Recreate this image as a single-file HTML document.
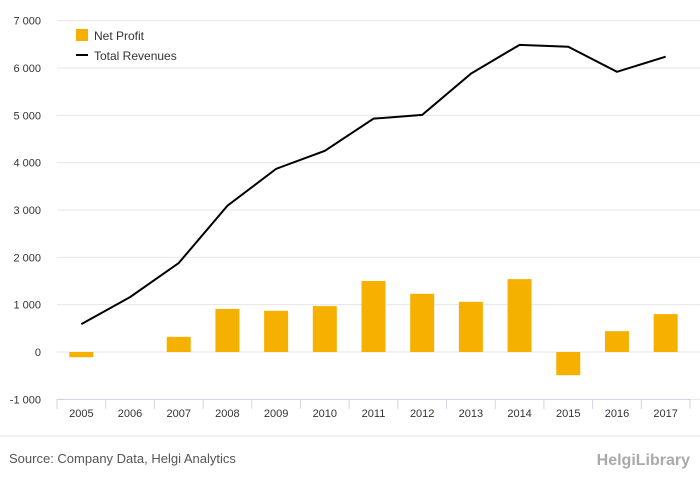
<!DOCTYPE html>
<html><head><meta charset="utf-8"><style>
body{margin:0;background:#fff;font-family:"Liberation Sans",sans-serif;}
svg text{font-family:"Liberation Sans",sans-serif;}
</style></head><body>
<svg id="c" width="700" height="483">
<rect width="700" height="483" fill="#fff"/>
<g id="grid"></g>
<g id="bars"></g>
<path id="line" fill="none" stroke="#000" stroke-width="2"/>
<g id="xax"></g>
<g id="yax"></g>
<g>
<rect x="76" y="29" width="12" height="12" fill="#f5b000"/>
<text x="94" y="40" font-size="12" fill="#333">Net Profit</text>
<line x1="76" y1="55" x2="88" y2="55" stroke="#000" stroke-width="2"/>
<text x="94" y="60" font-size="12" fill="#333">Total Revenues</text>
</g>
<line x1="0" y1="436" x2="700" y2="436" stroke="#e6e6e6"/>
<text x="9" y="463" font-size="13" fill="#555">Source: Company Data, Helgi Analytics</text>
<text x="690" y="465" font-size="16" fill="#aaa" text-anchor="end" font-weight="bold">HelgiLibrary</text>
</svg>
<script>
const categories=["2005","2006","2007","2008","2009","2010","2011","2012","2013","2014","2015","2016","2017"];
const netProfit=[-110,0,320,910,870,970,1500,1230,1060,1540,-490,440,800];
const totalRevenues=[590,1160,1880,3090,3870,4250,4930,5010,5880,6490,6450,5920,6240];
const yTicks=[-1000,0,1000,2000,3000,4000,5000,6000,7000];
const tickLabels=["-1 000","0","1 000","2 000","3 000","4 000","5 000","6 000","7 000"];
const ns="http://www.w3.org/2000/svg";
const x0=57,x1=690,bw=(x1-x0)/categories.length;
const xc=i=>x0+bw*(i+0.5);
const y=v=>352-v*0.04733;
function mk(tag,attrs,parent){const e=document.createElementNS(ns,tag);for(const k in attrs)e.setAttribute(k,attrs[k]);document.getElementById(parent).appendChild(e);return e;}
yTicks.forEach((t,i)=>{
 const g=mk('line',{x1:x0,x2:700,y1:y(t),y2:y(t),stroke:'#e6e6e6'},'grid');
 
 
 const tx=mk('text',{x:41,y:y(t)+4,'font-size':11,fill:'#333','text-anchor':'end'},'yax');
 tx.textContent=tickLabels[i];
 
 
});
netProfit.forEach((v,i)=>{
 const r=mk('rect',{x:xc(i)-12,y:Math.min(y(v),y(0)),width:24,height:Math.abs(y(v)-y(0)),fill:'#f5b000'},'bars');
 
 
});
document.getElementById('line').setAttribute('d',totalRevenues.map((v,i)=>(i?'L':'M')+xc(i)+' '+y(v)).join(' '));
const ax=mk('line',{x1:x0,x2:x1,y1:399.5,y2:399.5,stroke:'#ccd6eb'},'xax');


for(let i=0;i<=categories.length;i++){
 const t=mk('line',{x1:x0+bw*i,x2:x0+bw*i,y1:399,y2:409,stroke:'#ccd6eb'},'xax');
 
 
}
categories.forEach((c,i)=>{
 const t=mk('text',{x:xc(i),y:417,'font-size':11,fill:'#333','text-anchor':'middle'},'xax');
 t.textContent=c;
 
 
});
</script>
</body></html>
